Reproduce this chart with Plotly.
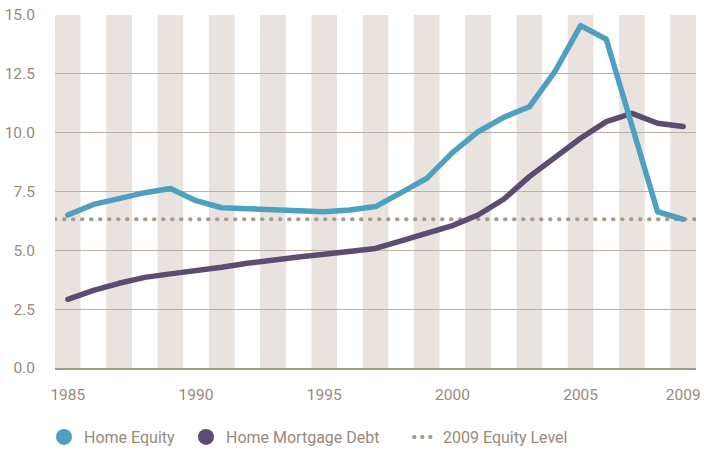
import plotly.graph_objects as go

years = list(range(1985, 2010))
home_equity = [6.5, 6.95, 7.2, 7.45, 7.63, 7.11, 6.81, 6.77, 6.69, 6.65, 6.64, 6.71, 6.86,
               7.45, 8.06, 9.15, 10.04, 10.65, 11.1, 12.6, 14.55, 13.97, 10.3, 6.64, 6.32]
mortgage_debt = [2.92, 3.3, 3.6, 3.85, 4.0, 4.12, 4.28, 4.45, 4.6, 4.72, 4.83, 4.94, 5.08,
                 5.4, 5.75, 6.05, 6.5, 7.17, 8.13, 8.98, 9.76, 10.47, 10.82, 10.4, 10.26]
tick_years = [1985, 1990, 1995, 2000, 2005, 2009]
y_ticks = [0, 2.5, 5, 7.5, 10, 12.5, 15]
equity_level = home_equity[-1]

BLUE = "#4f9fc1"
PURPLE = "#5c4d70"
DOT = "#a89b8c"
STRIPE = "#e8e3df"
GRID = "#bcb0a3"
TEXT = "#978a7c"
FONT = "Roboto, 'Liberation Sans Narrow', sans-serif"

fig = go.Figure()

x_lo = years[0] - 0.5
x_hi = years[-1] + 0.5

fig.add_trace(go.Scatter(
    x=[x_lo, x_hi], y=[equity_level, equity_level], mode="lines",
    line=dict(color=DOT, width=4, dash="0.5px,8.5px"),
    showlegend=False, hoverinfo="skip"))
fig.add_trace(go.Scatter(
    x=years, y=mortgage_debt, mode="lines", name="Home Mortgage Debt",
    line=dict(color=PURPLE, width=5.5), showlegend=False))
fig.add_trace(go.Scatter(
    x=years, y=home_equity, mode="lines", name="Home Equity",
    line=dict(color=BLUE, width=5.5), showlegend=False))

# legend-only entries
fig.add_trace(go.Scatter(x=[None], y=[None], mode="markers", name="Home Equity",
                         marker=dict(color=BLUE, size=17), legend="legend"))
fig.add_trace(go.Scatter(x=[None], y=[None], mode="markers", name="Home Mortgage Debt",
                         marker=dict(color=PURPLE, size=17), legend="legend2"))
fig.add_trace(go.Scatter(x=[None], y=[None], mode="lines", name="2009 Equity Level",
                         line=dict(color=DOT, width=4, dash="0.5px,7.5px"), legend="legend3"))

shapes = []
for yr in years[::2]:
    shapes.append(dict(type="rect", xref="x", yref="paper", x0=yr - 0.5, x1=yr + 0.5,
                       y0=0, y1=1, fillcolor=STRIPE, line_width=0, layer="below"))

leg_common = dict(orientation="h", xref="container", yref="container", xanchor="left",
                  yanchor="middle", bgcolor="rgba(0,0,0,0)", borderwidth=0,
                  font=dict(family=FONT, size=16, color=TEXT))
ly = 1 - 437 / 451

fig.update_layout(
    width=704, height=451,
    margin=dict(l=55, r=8, t=15, b=83),
    paper_bgcolor="white", plot_bgcolor="white",
    shapes=shapes,
    font=dict(family=FONT, size=15, color=TEXT),
    legend=dict(x=44 / 704, y=ly, **leg_common),
    legend2=dict(x=186 / 704, y=ly, **leg_common),
    legend3=dict(x=403 / 704, y=ly, **leg_common),
    xaxis=dict(range=[x_lo, x_hi], tickvals=tick_years, showgrid=False, zeroline=False,
               showline=True, linecolor="#a99c8d", linewidth=1.5, automargin=False,
               ticks="outside", ticklen=12, tickcolor="rgba(0,0,0,0)",
               tickfont=dict(family=FONT, size=15.5, color=TEXT)),
    yaxis=dict(range=[0, 15], tickvals=y_ticks, tickformat=".1f", showgrid=True,
               gridcolor=GRID, gridwidth=1.2, zeroline=False, showline=False,
               automargin=False,
               ticks="outside", ticklen=16, tickcolor="rgba(0,0,0,0)",
               tickfont=dict(family=FONT, size=15.5, color=TEXT)),
)

post = """
document.body.style.margin='0';
document.querySelectorAll('path.js-line').forEach(function(p){
  p.style.strokeLinecap='round'; p.style.strokeLinejoin='round';
});
document.querySelectorAll('g.legend3 path.js-line').forEach(function(p){
  p.setAttribute('d', 'M11,0h16.5');
});
"""
fig.write_html("out.html", post_script=post, config={"displayModeBar": False})
